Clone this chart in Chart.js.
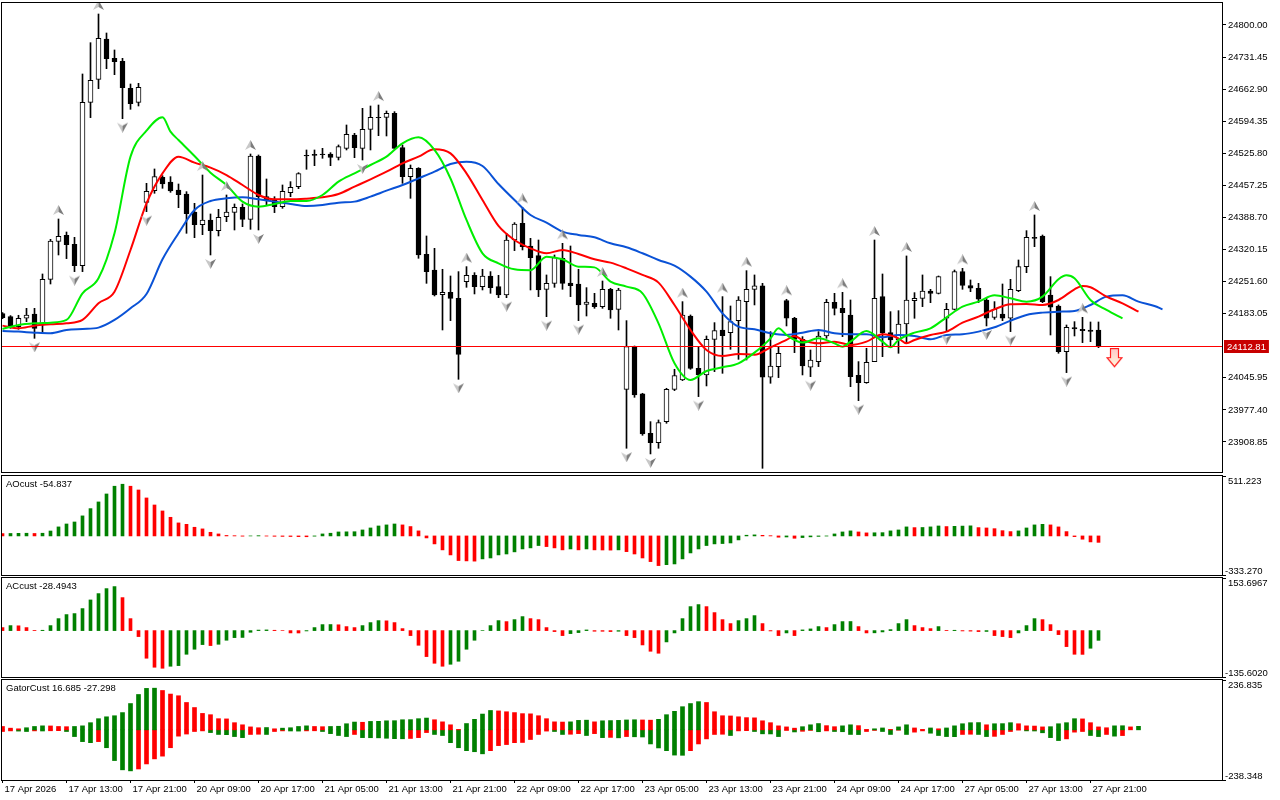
<!DOCTYPE html>
<html lang="en">
<head>
<meta charset="UTF-8">
<title>US100 H1 - Alligator, AO, AC, Gator</title>
<script src="https://cdn.jsdelivr.net/npm/chart.js"></script>
<style>
  html, body { margin: 0; padding: 0; background: #fff; }
  body { width: 1280px; height: 800px; position: relative; overflow: hidden; }
  .pane { position: absolute; left: 0; width: 1280px; }
  #mainPane { top: 0; height: 475px; }
  #aoPane { top: 474px; height: 102px; }
  #acPane { top: 576px; height: 102px; }
  #gatorPane { top: 678px; height: 122px; }
</style>
</head>
<body>
<div class="pane" id="mainPane"><canvas id="mainChart"></canvas></div>
<div class="pane" id="aoPane"><canvas id="aoChart"></canvas></div>
<div class="pane" id="acPane"><canvas id="acChart"></canvas></div>
<div class="pane" id="gatorPane"><canvas id="gatorChart"></canvas></div>

<script>
// ---- price data (hourly bars, index 0 = 17 Apr 2026 05:00) ----
const opens = [24183.1,24176.7,24155.4,24173.2,24182.4,24158.9,24256.5,24337.7,24350.5,24331.3,24285.7,24634.7,24683.9,24770.1,24728.8,24722.3,24664.6,24634.7,24421.0,24446.0,24474.5,24464.5,24447.4,24438.8,24400.4,24373.3,24383.3,24360.5,24390.4,24399.7,24410.4,24384.7,24520.0,24433.1,24426.0,24411.8,24441.7,24454.5,24521.5,24523.6,24524.3,24524.3,24517.2,24536.4,24564.9,24536.4,24577.0,24602.7,24602.7,24611.2,24537.9,24475.9,24493.7,24309.9,24276.4,24223.7,24228.7,24215.9,24251.5,24265.0,24240.8,24263.6,24240.8,24223.0,24340.5,24376.2,24327.7,24307.1,24235.1,24247.9,24301.4,24248.7,24246.5,24203.1,24205.2,24198.1,24235.1,24192.4,24021.4,24112.6,24011.5,23927.4,23907.5,23952.3,24021.4,24041.4,24178.1,24066.3,24052.1,24128.3,24148.2,24142.5,24168.2,24208.8,24235.1,24242.3,24047.1,24069.9,24210.9,24173.2,24128.3,24068.5,24080.6,24135.4,24207.3,24194.5,24180.3,24051.3,24035.7,24080.6,24219.5,24142.5,24126.9,24161.0,24210.9,24215.9,24231.6,24226.6,24173.2,24192.4,24272.9,24243.0,24237.3,24212.3,24175.3,24182.4,24173.2,24232.3,24283.6,24346.2,24349.1,24223.0,24199.5,24101.9,24153.2,24149.7,24148.2,24148.2];
const highs = [24185.3,24178.9,24179.6,24194.5,24194.5,24267.9,24342.0,24385.4,24357.6,24346.2,24695.3,24762.2,24823.5,24782.9,24746.6,24728.8,24673.9,24675.3,24461.6,24492.3,24478.0,24475.9,24460.2,24443.8,24418.9,24479.4,24396.1,24406.1,24436.7,24417.5,24417.5,24524.3,24522.2,24470.9,24433.1,24458.1,24465.2,24484.4,24532.9,24532.9,24536.4,24527.2,24543.6,24586.3,24568.5,24621.9,24626.9,24629.0,24616.2,24614.8,24543.6,24500.8,24495.1,24349.1,24322.7,24277.9,24263.6,24272.9,24283.6,24270.7,24277.9,24272.9,24265.0,24354.8,24377.6,24410.4,24344.1,24340.5,24265.8,24308.5,24333.4,24327.7,24277.9,24238.7,24226.6,24252.9,24237.3,24237.3,24168.2,24114.0,24012.9,23952.3,23955.9,24023.6,24064.2,24208.8,24180.3,24111.2,24135.4,24163.9,24219.5,24199.5,24219.5,24275.0,24265.8,24247.9,24144.7,24112.6,24213.8,24175.3,24134.0,24105.5,24144.7,24213.8,24226.6,24228.7,24212.3,24080.6,24109.1,24340.5,24267.9,24187.4,24189.5,24306.4,24228.0,24265.8,24235.1,24263.6,24205.2,24276.4,24280.0,24255.1,24247.9,24215.9,24208.8,24246.5,24256.5,24297.8,24360.5,24394.0,24351.2,24262.2,24201.7,24158.9,24166.0,24175.3,24165.3,24165.3];
const lows = [24172.4,24151.8,24149.7,24166.0,24130.4,24141.1,24246.5,24308.5,24300.7,24272.9,24272.9,24602.0,24663.9,24706.7,24693.8,24599.8,24619.8,24626.9,24401.1,24440.3,24451.0,24442.4,24409.6,24354.8,24345.5,24351.9,24308.5,24349.1,24379.7,24361.9,24369.0,24363.3,24361.9,24415.3,24399.0,24408.2,24433.1,24450.2,24491.6,24499.4,24515.1,24499.4,24511.5,24532.9,24516.5,24511.5,24532.9,24563.5,24562.8,24535.0,24461.6,24429.6,24301.4,24247.9,24220.9,24148.2,24168.2,24042.8,24239.4,24225.2,24233.7,24226.6,24217.3,24217.3,24317.8,24319.2,24233.7,24219.5,24176.7,24239.4,24235.1,24219.5,24168.2,24178.1,24194.5,24194.5,24173.2,24148.2,23895.4,24004.3,23923.1,23883.3,23895.4,23948.8,24018.6,24040.0,24064.2,24005.8,24028.6,24059.2,24055.6,24106.9,24085.5,24084.1,24201.7,23852.6,24034.3,24046.4,24156.8,24099.8,24052.1,24048.5,24069.9,24130.4,24180.3,24134.0,24027.1,23997.2,24034.3,24080.6,24091.2,24112.6,24098.4,24121.2,24173.2,24198.1,24206.6,24225.2,24146.8,24191.0,24235.1,24230.1,24206.6,24156.8,24171.0,24168.2,24144.7,24230.1,24270.7,24326.3,24206.6,24137.5,24098.4,24057.1,24135.4,24121.2,24123.3,24110.5];
const closes = [24174.6,24155.4,24173.2,24180.3,24151.8,24256.5,24338.4,24348.4,24330.6,24285.7,24634.7,24681.7,24771.5,24728.0,24721.6,24666.1,24631.9,24666.8,24444.5,24475.9,24460.2,24445.3,24437.4,24396.8,24373.3,24383.3,24360.5,24389.0,24400.4,24410.4,24384.7,24520.0,24433.1,24426.0,24411.8,24444.5,24453.1,24482.3,24520.0,24521.5,24522.9,24517.2,24540.0,24566.3,24537.9,24577.0,24602.7,24602.0,24611.2,24536.4,24475.9,24493.7,24308.5,24272.9,24223.0,24228.7,24215.9,24096.2,24265.0,24240.8,24263.6,24238.7,24223.0,24340.5,24374.7,24326.3,24302.8,24233.7,24247.9,24302.8,24247.9,24243.0,24201.7,24208.1,24198.1,24235.1,24191.0,24233.7,24112.6,24009.3,23926.0,23907.5,23950.2,24021.4,24050.6,24180.3,24066.3,24052.1,24128.3,24146.8,24136.1,24166.0,24212.3,24235.1,24242.3,24047.1,24071.3,24098.4,24173.2,24128.3,24071.3,24084.1,24135.4,24207.3,24194.5,24185.3,24048.5,24035.7,24079.1,24215.9,24142.5,24126.9,24161.0,24212.3,24215.9,24231.6,24226.6,24262.2,24192.4,24272.9,24243.7,24237.3,24213.8,24173.2,24192.4,24173.2,24235.1,24283.6,24346.2,24344.1,24208.8,24196.7,24101.9,24153.9,24150.4,24146.8,24145.4,24112.81];

// Bill Williams fractals (bar indexes)
const fractalUpIdx = [7,12,25,28,31,47,58,65,70,75,85,90,93,98,105,109,113,120,129,135];
const fractalDownIdx = [4,9,15,18,26,32,45,57,63,68,72,78,81,87,95,101,107,118,123,126,133];

// Alligator lines as drawn (already shifted forward): [bar index, price]
const jaw = [[0,24146.1],[2,24144.7],[4,24142.5],[6,24141.1],[8,24148.2],[10,24150.4],[12,24153.2],[14,24169.6],[16,24194.5],[18,24225.2],[20,24299.2],[22,24354.8],[24,24404.7],[26,24423.9],[28,24429.6],[30,24431.7],[32,24427.4],[34,24422.5],[36,24417.5],[38,24413.2],[40,24415.3],[42,24420.3],[44,24422.5],[46,24433.1],[48,24446.0],[50,24458.1],[52,24472.3],[54,24486.6],[56,24502.9],[58,24507.9],[60,24498.7],[62,24460.2],[64,24426.0],[66,24394.0],[68,24377.6],[70,24358.4],[72,24351.2],[74,24346.2],[76,24333.4],[78,24324.9],[80,24312.1],[82,24297.8],[84,24285.7],[86,24262.2],[88,24230.1],[90,24183.8],[92,24155.3],[94,24149.6],[96,24141.1],[98,24137.5],[100,24142.5],[102,24148.2],[104,24141.1],[106,24139.0],[108,24139.0],[110,24132.6],[112,24137.5],[114,24135.4],[116,24128.3],[118,24137.5],[120,24139.0],[122,24144.7],[124,24153.9],[126,24168.2],[128,24180.3],[130,24185.3],[132,24187.4],[134,24188.8],[136,24201.6],[138,24219.5],[140,24222.3],[142,24208.8],[144,24199.5],[145,24192.4]];
const teeth = [[0,24157.5],[2,24151.8],[4,24157.5],[6,24160.3],[8,24162.5],[10,24169.6],[12,24205.2],[14,24230.1],[16,24319.2],[18,24418.9],[20,24483.0],[22,24518.6],[24,24505.8],[26,24495.1],[28,24479.4],[30,24458.1],[32,24436.7],[34,24427.4],[36,24427.4],[38,24428.9],[40,24431.7],[42,24438.8],[44,24454.5],[46,24470.2],[48,24486.6],[50,24504.4],[52,24518.6],[54,24534.3],[56,24525.7],[58,24483.0],[60,24426.0],[62,24370.5],[64,24340.5],[66,24322.7],[68,24312.1],[70,24319.2],[72,24310.6],[74,24299.2],[76,24292.1],[78,24280.0],[80,24265.8],[82,24249.4],[84,24201.6],[86,24148.2],[88,24105.5],[90,24092.7],[92,24096.9],[94,24095.5],[96,24111.2],[98,24126.9],[99,24135.4],[100,24126.9],[102,24119.7],[104,24123.3],[106,24116.2],[108,24123.3],[110,24139.0],[112,24130.4],[113,24119.7],[114,24126.9],[116,24137.5],[118,24144.7],[120,24163.9],[122,24176.7],[124,24192.4],[126,24203.1],[128,24203.8],[130,24201.6],[132,24212.3],[134,24235.1],[135,24242.2],[136,24239.4],[138,24219.5],[140,24205.2],[142,24187.4]];
const lips = [[0,24150.4],[2,24158.9],[4,24162.5],[6,24163.9],[8,24169.6],[10,24226.6],[12,24258.6],[14,24354.8],[16,24518.6],[18,24574.2],[20,24602.7],[21,24572.0],[22,24554.2],[24,24520.0],[26,24484.4],[28,24458.1],[30,24422.5],[32,24411.8],[34,24417.5],[36,24423.9],[38,24423.9],[40,24436.7],[42,24465.2],[44,24483.0],[46,24500.8],[48,24518.6],[50,24547.1],[52,24559.9],[54,24532.9],[56,24472.0],[58,24383.3],[60,24312.1],[62,24290.7],[64,24277.9],[66,24276.0],[68,24304.9],[70,24299.2],[72,24283.6],[74,24282.0],[76,24251.5],[78,24240.8],[80,24226.6],[82,24162.5],[84,24077.0],[86,24041.4],[88,24060.6],[90,24068.4],[92,24077.0],[94,24099.8],[96,24130.4],[97,24151.8],[98,24137.5],[100,24121.2],[102,24130.4],[104,24119.7],[105,24112.6],[106,24123.3],[108,24146.1],[110,24123.3],[111,24111.2],[112,24126.9],[114,24142.5],[116,24151.8],[118,24175.3],[120,24198.1],[122,24208.8],[124,24222.3],[126,24215.9],[128,24208.8],[130,24219.5],[132,24256.5],[133,24265.0],[134,24258.6],[136,24212.3],[138,24191.0],[140,24173.2]];

const lastPrice = 24112.81;
const signalIdx = [139];
const signalPrice = [24088];

// ---- oscillators ----
const ao = [20,21,22,23,21,23,42,77,102,119,171,233,290,358,424,441,424,392,324,264,213,159,111,99,74,60,31,17,4,2,-2,0,2,-1,-3,-4,-5,-6,-7,-2,17,23,34,35,36,51,68,85,94,102,94,80,43,-17,-68,-119,-162,-210,-213,-215,-196,-188,-162,-154,-136,-111,-102,-82,-91,-102,-119,-111,-119,-111,-119,-120,-121,-119,-134,-154,-188,-219,-253,-245,-239,-196,-145,-111,-82,-68,-65,-60,-34,6,9,5,2,-11,-9,-20,-14,-8,-4,-1,17,34,43,34,26,27,28,43,51,77,71,72,77,85,80,82,84,86,71,68,62,45,37,43,68,94,99,94,77,37,-6,-28,-51,-54.837];
const ac = [8.8,14.6,14.0,8.8,0.5,1,14.6,35,46.8,49.7,64.3,89.6,108.1,122.7,128.6,96.4,35,-17.5,-80.8,-107.1,-110.1,-104.2,-102.3,-69.2,-54.5,-40.9,-43.8,-40,-28.2,-20.5,-20,-4.9,1.5,2,1,0,-6.8,-7,-1,8.8,17.5,17.7,17,11.7,8.8,14.6,23.4,29.2,28.5,23.4,5.8,-14.6,-42.9,-76,-95.5,-104.2,-98.4,-89.6,-54.5,-28.2,0,14.6,29.2,26.3,32.1,40.9,35,32.1,8.8,-2.9,-14.6,-8.8,-5.8,1.9,-1.9,-2,-2.9,-1.9,-14.6,-20.5,-41.9,-60.4,-66.2,-33.1,-6.8,35,70.1,76,70.1,52.6,32.1,20.5,29.2,35,43.8,20.5,-1,-14.6,-6.8,-14.6,2,4.9,11.7,8.8,17.5,26.3,26.5,11.7,-6.8,-6.5,-3.9,2.9,20.5,32.1,14.6,8.8,5.8,11.7,0.5,1,-1,-1.5,-2.9,-2.5,-14.6,-17.5,-20.5,-6.8,14.6,35,32.1,17.5,-11.7,-46.8,-69.2,-69.5,-51.6,-28.4943];
const gatorUp = [16,8,5,10,16,19,18.5,16,15,16,19,34,53,62,67,82,125,168,197,198,187,170,162,130,106,78,72,53,52,34,24,14,10,11,5,8,10,16,19,16,15,16,17,29,37,36,40,40.5,43,43.5,48,48.5,53,56,48,38,24,2,30,50,75,92,90,86,82,77,76,67,53,38,37,38,45,46,38,43,44,45,47,48,47,46,50,72,88,110,125,134,130,86,67,66,62,58,57,43,34,19,14,8,15,24,30,20,15,19,24,20,2,5,9,2,14,24,9,2,9,5,9,19,29,34,34.5,24,29,29.5,34,29,19,18,14,15,29,34,53,52,34,14,10,19,19.5,14,16.685];
const gatorDown = [-8,-5,-6,-8,-5,-5.5,-4.5,-4,-8,-32,-56,-61,-56,-85,-146,-190,-195,-186,-162,-138,-125,-85,-30,-20,-8,-5,-13,-22,-23,-32,-37,-22,-21,-22,-8,-5,-5.5,-6,-5,-4.5,-8,-18,-27,-32,-22,-37,-37.5,-38,-40,-42,-42.5,-41,-37,-13,-22,-27,-61,-85,-99,-104,-114,-99,-75,-70,-61,-60,-46,-22,-6,-8,-22,-21,-18,-27,-18,-37,-36,-38,-32,-33,-34,-67,-86,-99,-120,-121,-99,-67,-43,-22,-21,-27,-5,-4,-8,-19,-19.5,-32,-3,-10,-7,-3,-9,-5,-8,-9,-22,-22.5,-8,-3,-8,-22,-2,-22,-11,-5,-16,-27,-32,-32.5,-22,-21,-22,-32,-31,-22,-8,-1,-5,-5.5,-14,-37,-51,-43,-11,-8,-27,-32,-22,-30,-27.298];

// ---- axes ----
const mainRange = [23844.7, 24847.0];
const mainTicks = [24800.00,24731.45,24662.90,24594.35,24525.80,24457.25,24388.70,24320.15,24251.60,24183.05,24045.95,23977.40,23908.85];
const aoRange = [-333.270, 511.223];
const acRange = [-135.6020, 153.6967];
const gatorRange = [-238.348, 236.835];
const timeLabels = ['17 Apr 2026','17 Apr 13:00','17 Apr 21:00','20 Apr 09:00','20 Apr 17:00','21 Apr 05:00','21 Apr 13:00','21 Apr 21:00','22 Apr 09:00','22 Apr 17:00','23 Apr 05:00','23 Apr 13:00','23 Apr 21:00','24 Apr 09:00','24 Apr 17:00','27 Apr 05:00','27 Apr 13:00','27 Apr 21:00'];
const barsPerLabel = 8;

const FONT_FAMILY = '"Liberation Sans", Arial, sans-serif';
const FONT_SIZE = 9.5;
Chart.defaults.font.family = FONT_FAMILY;
Chart.defaults.font.size = FONT_SIZE;
Chart.defaults.color = '#000';

const GREEN = '#008000', RED = '#ff0000';
const X_MIN = -0.0625, X_MAX = 152.4375;   // 8 px per bar

// grey fractal arrow, drawn away from the price point
function fractalIcon(up) {
  const c = document.createElement('canvas');
  c.width = 11; c.height = 28;
  const g = c.getContext('2d');
  if (!up) { g.translate(0, 28); g.scale(1, -1); }
  g.beginPath(); g.moveTo(5.5, 0); g.lineTo(5.5, 7); g.lineTo(0, 10); g.closePath();
  g.fillStyle = '#c8c8c8'; g.fill();
  g.beginPath(); g.moveTo(5.5, 0); g.lineTo(11, 10); g.lineTo(5.5, 7); g.closePath();
  g.fillStyle = '#7c7c7c'; g.fill();
  return c;
}
function signalIcon() {
  const c = document.createElement('canvas');
  c.width = 17; c.height = 20;
  const g = c.getContext('2d');
  g.beginPath();
  g.moveTo(4.5, 0.5); g.lineTo(12.5, 0.5); g.lineTo(12.5, 9.5); g.lineTo(16, 9.5);
  g.lineTo(8.5, 18.5); g.lineTo(1, 9.5); g.lineTo(4.5, 9.5); g.closePath();
  const grad = g.createLinearGradient(0, 0, 0, 18);
  grad.addColorStop(0, '#ffc8c8'); grad.addColorStop(1, '#fff6dc');
  g.fillStyle = grad; g.fill();
  g.strokeStyle = '#ff2020'; g.lineWidth = 1.2; g.stroke();
  return c;
}

// frame, pane title, range labels and bid line
const paneDecor = {
  id: 'paneDecor',
  afterDatasetsDraw(chart, args, o) {
    if (!o || o.price == null) return;
    const { ctx, chartArea: a } = chart;
    const y = Math.floor(chart.scales.y.getPixelForValue(o.price));
    ctx.save();
    ctx.fillStyle = '#ff0000';
    ctx.fillRect(a.left, y, a.right - a.left, 1);
    ctx.restore();
  },
  afterDraw(chart, args, o) {
    const { ctx, chartArea: a } = chart;
    ctx.save();
    ctx.strokeStyle = '#000'; ctx.lineWidth = 1;
    ctx.strokeRect(a.left - 0.5, a.top - 0.5, a.right - a.left + 1, a.bottom - a.top + 1);
    ctx.font = FONT_SIZE + 'px ' + FONT_FAMILY;
    ctx.fillStyle = '#000'; ctx.textAlign = 'left';
    if (o.title) { ctx.textBaseline = 'top'; ctx.fillText(o.title, a.left + 4, a.top + 4); }
    if (o.range) {
      ctx.textBaseline = 'top'; ctx.fillText(o.range[1], a.right + 6, a.top + 1);
      ctx.textBaseline = 'bottom'; ctx.fillText(o.range[0], a.right + 3, a.bottom + 1);
    }
    if (o.price != null) {
      const y = Math.floor(chart.scales.y.getPixelForValue(o.price));
      const txt = o.price.toFixed(2);
      const w = ctx.measureText(txt).width + 6;
      ctx.fillStyle = '#c80000';
      ctx.fillRect(a.right + 2, y - 6, w, 13);
      ctx.fillStyle = '#fff'; ctx.textBaseline = 'middle';
      ctx.fillText(txt, a.right + 5, y + 1);
    }
    ctx.restore();
  }
};
Chart.register(paneDecor);

function xAxis(withLabels) {
  const s = { type: 'linear', min: X_MIN, max: X_MAX, offset: false, display: withLabels,
    grid: { display: true, drawOnChartArea: false, drawTicks: true, tickLength: 3, color: '#000', offset: false },
    border: { display: false } };
  if (withLabels) {
    s.afterBuildTicks = sc => { sc.ticks = timeLabels.map((t, i) => ({ value: i * barsPerLabel })); };
    s.afterFit = sc => { sc.height = 20; sc.paddingLeft = 0; sc.paddingRight = 0; };
    s.ticks = { autoSkip: false, maxRotation: 0, align: 'start', labelOffset: 2, padding: 1,
      callback: v => timeLabels[Math.round(v / barsPerLabel)] };
  }
  return s;
}
function yAxis(range, tickValues, showLabels, fmt) {
  return { type: 'linear', position: 'right', min: range[0], max: range[1],
    afterBuildTicks: sc => { sc.ticks = tickValues.map(v => ({ value: v })); },
    afterFit: sc => { sc.width = 58; sc.paddingTop = 0; sc.paddingBottom = 0; },
    grid: { display: true, drawOnChartArea: false, drawTicks: true, tickLength: 4, color: '#000' },
    border: { display: false },
    ticks: { display: showLabels, autoSkip: false, padding: 2, callback: v => fmt(v) } };
}
function baseOptions(scales, decor, padding) {
  return { responsive: true, maintainAspectRatio: false, animation: false, events: [],
    layout: { padding, autoPadding: false },
    scales,
    plugins: { legend: { display: false }, tooltip: { enabled: false }, paneDecor: decor } };
}
function risingColor(values, byAbs) {
  return c => {
    const i = c.dataIndex;
    if (i === 0) return RED;
    const rising = byAbs ? Math.abs(values[i]) > Math.abs(values[i - 1]) : values[i] > values[i - 1];
    return rising ? GREEN : RED;
  };
}

// ---- main chart ----
const idx = opens.map((o, i) => i);
new Chart(document.getElementById('mainChart'), {
  type: 'bar',
  data: {
    datasets: [
      { type: 'line', data: fractalUpIdx.map(i => ({ x: i, y: highs[i] })), showLine: false,
        pointStyle: fractalIcon(true), pointRadius: 3, order: 1 },
      { type: 'line', data: fractalDownIdx.map(i => ({ x: i, y: lows[i] })), showLine: false,
        pointStyle: fractalIcon(false), pointRadius: 3, order: 1 },
      { type: 'line', data: signalIdx.map((k, j) => ({ x: k, y: signalPrice[j] })), showLine: false,
        pointStyle: signalIcon(), pointRadius: 3, order: 0 },
      { type: 'line', data: lips.map(p => ({ x: p[0], y: p[1] })), borderColor: '#00ee00', borderWidth: 2,
        pointRadius: 0, cubicInterpolationMode: 'monotone', order: 2 },
      { type: 'line', data: teeth.map(p => ({ x: p[0], y: p[1] })), borderColor: '#ff0000', borderWidth: 2,
        pointRadius: 0, cubicInterpolationMode: 'monotone', order: 2 },
      { type: 'line', data: jaw.map(p => ({ x: p[0], y: p[1] })), borderColor: '#0a52d6', borderWidth: 2,
        pointRadius: 0, cubicInterpolationMode: 'monotone', order: 3 },
      { type: 'bar', data: idx.map(i => ({ x: i, y: [opens[i], closes[i]] })), grouped: false,
        barThickness: 5, borderWidth: 1, borderColor: '#000', borderSkipped: false,
        backgroundColor: c => closes[c.dataIndex] >= opens[c.dataIndex] ? '#fff' : '#000', order: 4 },
      { type: 'bar', data: idx.map(i => ({ x: i, y: [lows[i], highs[i]] })), grouped: false,
        barThickness: 1, borderWidth: 0, backgroundColor: '#000', order: 5 }
    ]
  },
  options: baseOptions(
    { x: xAxis(false), y: yAxis(mainRange, mainTicks, true, v => v.toFixed(2)) },
    { price: lastPrice },
    { left: 2, top: 3, bottom: 3, right: 0 })
});

// ---- AO ----
new Chart(document.getElementById('aoChart'), {
  type: 'bar',
  data: { datasets: [{ data: ao.map((v, i) => ({ x: i, y: v })), grouped: false, barThickness: 3,
    backgroundColor: risingColor(ao, false) }] },
  options: baseOptions(
    { x: xAxis(false), y: yAxis(aoRange, aoRange, false, v => v) },
    { title: 'AOcust ' + ao[ao.length - 1].toFixed(3), range: aoRange.map(v => v.toFixed(3)) },
    { left: 2, top: 2, bottom: 1, right: 0 })
});

// ---- AC ----
new Chart(document.getElementById('acChart'), {
  type: 'bar',
  data: { datasets: [{ data: ac.map((v, i) => ({ x: i, y: v })), grouped: false, barThickness: 3,
    backgroundColor: risingColor(ac, false) }] },
  options: baseOptions(
    { x: xAxis(false), y: yAxis(acRange, acRange, false, v => v) },
    { title: 'ACcust ' + ac[ac.length - 1].toFixed(4), range: acRange.map(v => v.toFixed(4)) },
    { left: 2, top: 2, bottom: 1, right: 0 })
});

// ---- Gator ----
new Chart(document.getElementById('gatorChart'), {
  type: 'bar',
  data: { datasets: [
    { data: gatorUp.map((v, i) => ({ x: i, y: v })), grouped: false, barThickness: 4,
      backgroundColor: risingColor(gatorUp, true) },
    { data: gatorDown.map((v, i) => ({ x: i, y: v })), grouped: false, barThickness: 4,
      backgroundColor: risingColor(gatorDown, true) }
  ] },
  options: baseOptions(
    { x: xAxis(true), y: yAxis(gatorRange, gatorRange, false, v => v) },
    { title: 'GatorCust ' + gatorUp[gatorUp.length - 1].toFixed(3) + ' ' + gatorDown[gatorDown.length - 1].toFixed(3),
      range: gatorRange.map(v => v.toFixed(3)) },
    { left: 2, top: 2, bottom: 0, right: 0 })
});
</script>
</body>
</html>
